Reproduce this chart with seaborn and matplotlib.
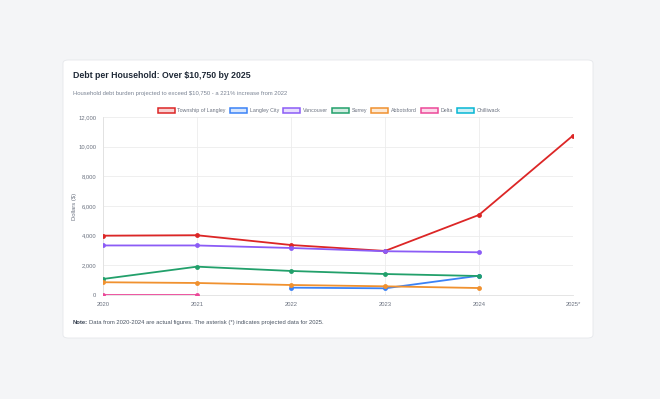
import matplotlib.pyplot as plt
import numpy as np
import pandas as pd
import seaborn as sns
from matplotlib.patches import FancyBboxPatch, Patch

years = ['2020', '2021', '2022', '2023', '2024', '2025*']
regions = ['Township of Langley', 'Langley City', 'Vancouver', 'Surrey', 'Abbotsford', 'Delta', 'Chilliwack']
colors = ['#dc2626', '#3b82f6', '#8b5cf6', '#22a06b', '#f0912f', '#ec4899', '#06b6d4']

township = [4000, 4030, 3370, 2970, 5400, 10750]
langley_city = [np.nan, np.nan, 495, 450, 1300, np.nan]
vancouver = [3340, 3340, 3170, 2950, 2880, np.nan]
surrey = [1080, 1910, 1620, 1415, 1280, np.nan]
abbotsford = [860, 810, 675, 585, 470, np.nan]
delta = [0, 0, np.nan, np.nan, np.nan, np.nan]
chilliwack = [np.nan] * 6

series = [township, langley_city, vancouver, surrey, abbotsford, delta, chilliwack]
rows = []
for name, vals in zip(regions, series):
    for i, v in enumerate(vals):
        rows.append({'region': name, 'idx': i, 'value': v})
df = pd.DataFrame(rows).dropna()

sns.set_style('white')
plt.rcParams['font.family'] = ['Liberation Sans', 'DejaVu Sans']

fig = plt.figure(figsize=(6.6, 3.99), dpi=100)
fig.patch.set_facecolor('#f4f5f7')

# white card behind everything
card = FancyBboxPatch((63 / 660, 1 - 338 / 399), 530 / 660, 278 / 399,
                      boxstyle='round,pad=0,rounding_size=0.008',
                      transform=fig.transFigure, facecolor='white',
                      edgecolor='#e5e7eb', linewidth=0.6, zorder=-10)
fig.patches.append(card)

ax = fig.add_axes([103 / 660, 1 - 295 / 399, 470 / 660, 178 / 399])
ax.set_facecolor('white')

palette = dict(zip(regions, colors))
sns.lineplot(data=df, x='idx', y='value', hue='region', hue_order=regions,
             palette=palette, marker='o', markersize=3.5, markeredgewidth=0,
             linewidth=1.3, legend=False, ax=ax, zorder=3)

ax.set_xlim(0, 5)
ax.set_ylim(0, 12000)
ax.set_xticks(range(len(years)))
ax.set_xticklabels(years)
ax.set_yticks(range(0, 12001, 2000))
ax.set_yticklabels([f'{v:,}' for v in range(0, 12001, 2000)])
ax.tick_params(axis='both', labelsize=4.2, colors='#6b7280', length=0, pad=5)
ax.set_xlabel('')
ax.set_ylabel('Dollars ($)', fontsize=4.2, color='#6b7280', labelpad=1)
ax.grid(True, color='#ececec', linewidth=0.6)
for s in ['top', 'right']:
    ax.spines[s].set_visible(False)
for s in ['left', 'bottom']:
    ax.spines[s].set_color('#e0e0e0')
    ax.spines[s].set_linewidth(0.6)

handles = [Patch(facecolor=c + '33', edgecolor=c, linewidth=1.1, label=r)
           for r, c in zip(regions, colors)]
fig.legend(handles=handles, loc='center', bbox_to_anchor=(329 / 660, 1 - 110.5 / 399),
           ncol=7, frameon=False, fontsize=3.8, handlelength=3.2, handleheight=1.0,
           handletextpad=0.5, columnspacing=0.8, labelcolor='#6b7280')

fig.text(73 / 660, 1 - 76 / 399, 'Debt per Household: Over \\$10,750 by 2025',
         fontsize=6.3, fontweight='bold', color='#1f2937', va='center')
fig.text(73 / 660, 1 - 93.5 / 399,
         'Household debt burden projected to exceed \\$10,750 - a 221% increase from 2022',
         fontsize=4.2, color='#7b8494', va='center')
fig.text(73 / 660, 1 - 322.5 / 399, 'Note:', fontsize=4.2, fontweight='bold',
         color='#374151', va='center')
fig.text(89 / 660, 1 - 322.5 / 399,
         'Data from 2020-2024 are actual figures. The asterisk (*) indicates projected data for 2025.',
         fontsize=4.2, color='#4b5563', va='center')

fig.savefig('out.png', dpi=100, facecolor=fig.get_facecolor())
